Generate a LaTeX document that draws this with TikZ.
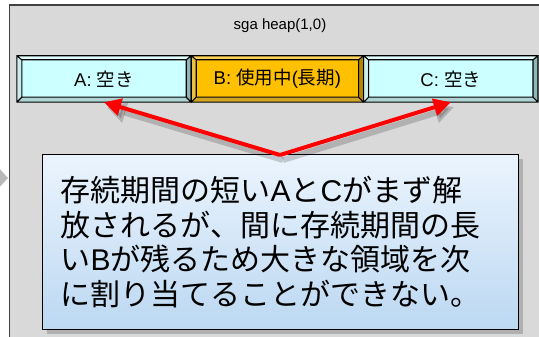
\documentclass[tikz,border=0pt]{standalone}
\usepackage{fontspec}
\setmainfont{Noto Sans CJK JP}
\newfontfamily\lat{Liberation Sans}
\usepackage{tikz}
\usetikzlibrary{arrows.meta, calc, positioning, shadows}

\definecolor{heapgray}{HTML}{D9D9D9}
\definecolor{freeface}{HTML}{CCFFFF}
\definecolor{freelight}{HTML}{E2FFFF}
\definecolor{freedark}{HTML}{8DB6B6}
\definecolor{usedface}{HTML}{FFC000}
\definecolor{usedlight}{HTML}{FFD35A}
\definecolor{useddark}{HTML}{B38700}
\definecolor{notetop}{HTML}{EBF4FD}
\definecolor{notebottom}{HTML}{BCD8F2}

% raised rim around a block: node, light colour, dark colour
\newcommand\bevelrim[3]{%
  \path (#1.north west) coordinate (o1) (#1.north east) coordinate (o2)
        (#1.south east) coordinate (o3) (#1.south west) coordinate (o4)
        ($(#1.north west)+(5,-4)$) coordinate (i1) ($(#1.north east)+(-5,-4)$) coordinate (i2)
        ($(#1.south east)+(-5,5)$) coordinate (i3) ($(#1.south west)+(5,5)$) coordinate (i4);
  \fill[#2] (o1) -- (o2) -- (i2) -- (i1) -- cycle;
  \fill[#2!75!#3] (o1) -- (i1) -- (i4) -- (o4) -- cycle;
  \fill[#3] (o2) -- (o3) -- (i3) -- (i2) -- cycle;
  \fill[#3!60!#2] (o4) -- (i4) -- (i3) -- (o3) -- cycle;
  \draw[line width=1.1] (o1) rectangle (o3) (i1) rectangle (i3)
    (o1) -- (i1) (o2) -- (i2) (o3) -- (i3) (o4) -- (i4);
}

\tikzset{
  block/.style={rectangle, inner sep=0pt, minimum width=174pt, minimum height=46pt,
    font=\fontsize{18.5}{20}\selectfont},
  callout/.style={red, line width=4, -{Triangle[length=17pt,width=17pt]}},
  callshadow/.style={black, opacity=0.18, line width=6, -{Triangle[length=19pt,width=20pt]}},
}

\begin{document}
\begin{tikzpicture}[x=1pt, y=1pt]
\useasboundingbox (0,0) rectangle (539,-337);
\clip (0,0) rectangle (539,-337);

% incoming arrow tip, left edge
\fill[gray!55] (-4,-165) -- (8,-178) -- (-4,-191) -- cycle;

% heap area
\draw[fill=heapgray, draw=black!75, line width=1.2] (9.5,-5) rectangle (560,-360);
\node[font=\lat\fontsize{15}{17}\selectfont] (title) at (280,-26) {sga heap(1,0)};

% blocks
\node[block, fill=freeface] (A) at (104,-79) {};
\node[block, fill=usedface, minimum width=172pt, right=0pt of A] (B) {};
\node[block, fill=freeface, right=0pt of B] (C) {};
\bevelrim{A}{freelight}{freedark}
\bevelrim{B}{usedlight}{useddark}
\bevelrim{C}{freelight}{freedark}
\node[block, minimum width=164pt] (Alabel) at (A) {{\lat A: }空き};
\node[block, minimum width=162pt] (Blabel) at (B) {{\lat B: }使用中{\lat (}長期{\lat )}};
\node[block, minimum width=164pt] (Clabel) at (C) {{\lat C: }空き};

% note
\node[draw=black, line width=1.3, anchor=north west, top color=notetop, bottom color=notebottom,
      drop shadow={shadow xshift=4pt, shadow yshift=-4pt, opacity=0.45},
      minimum width=476pt, minimum height=175pt, text width=440pt, inner sep=0pt,
      align=left, font=\fontsize{30}{34.5}\selectfont] (note) at (42,-154)
  {存続期間の短い{\lat A}と{\lat C}がまず解\\
   放されるが、間に存続期間の長\\
   い{\lat B}が残るため大きな領域を次\\
   に割り当てることができない。};
\coordinate (apex) at (280,-155);

% callouts
\draw[callshadow] ($(apex)+(3,-5)$) -- ($(A.south)+(3,-5)$);
\draw[callshadow] ($(apex)+(3,-5)$) -- ($(C.south)+(3,-5)$);
\draw[callout] (apex) -- (A.south);
\draw[callout] (apex) -- (C.south);
\end{tikzpicture}
\end{document}
